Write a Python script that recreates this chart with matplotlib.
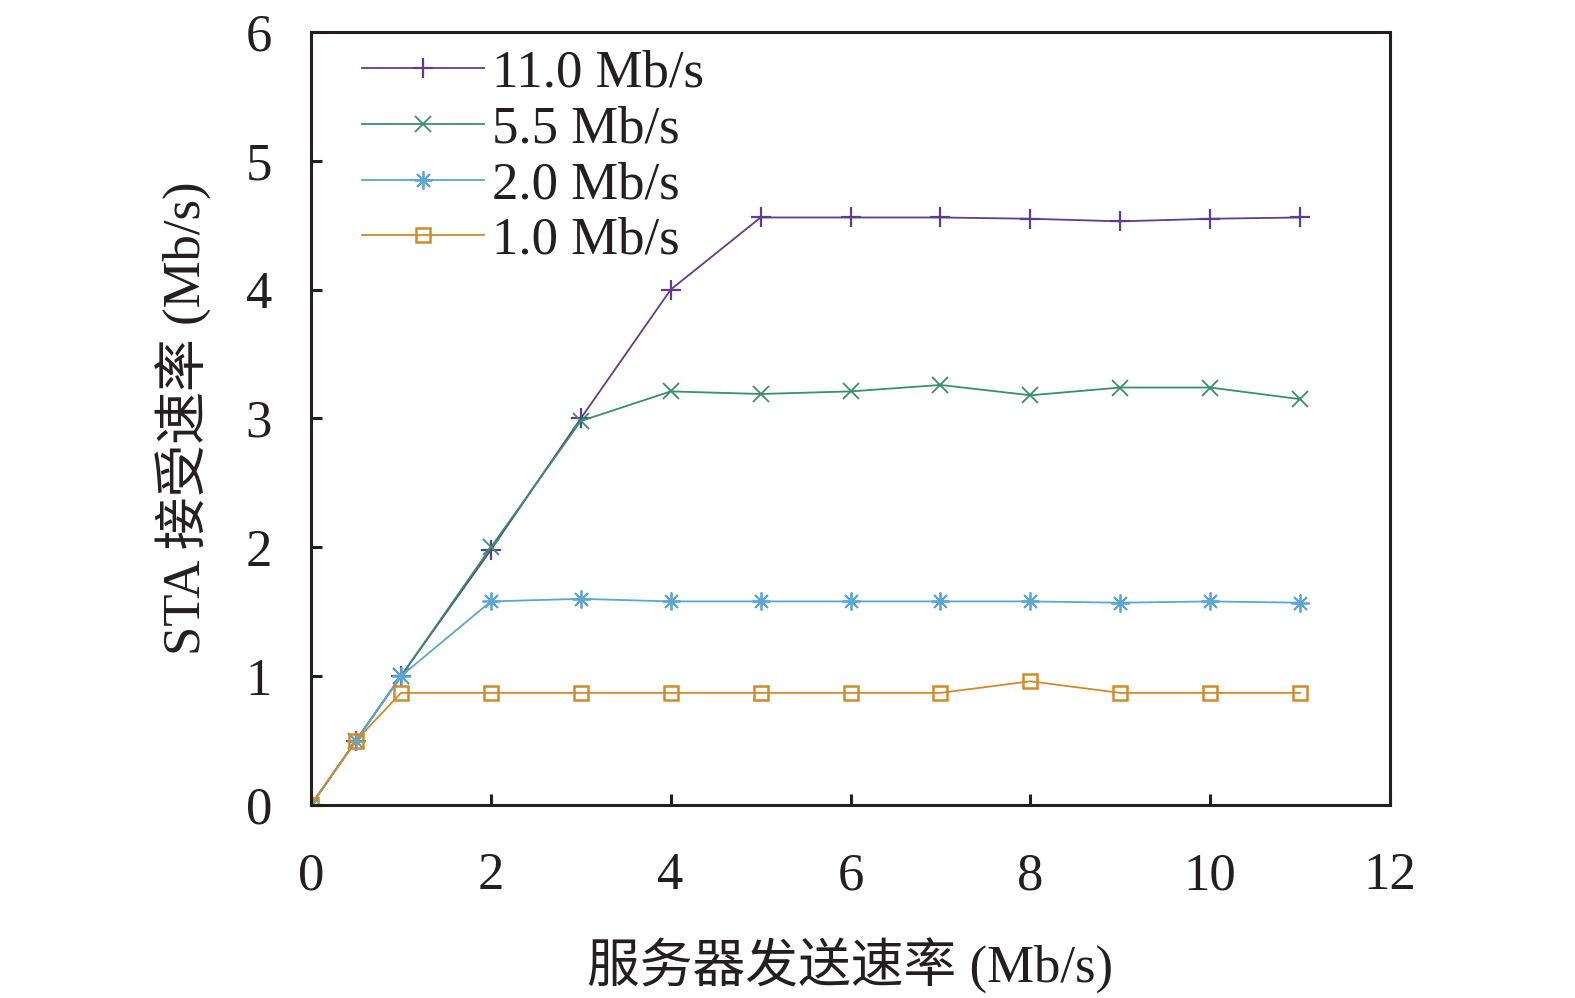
import matplotlib
matplotlib.use('Agg')
import matplotlib.pyplot as plt

# server send rate (Mb/s)
x = [0, 0.5, 1, 2, 3, 4, 5, 6, 7, 8, 9, 10, 11]

# STA receive rate for each channel rate
rate_11 = [0, 0.5, 1.0, 1.98, 3.0, 4.0, 4.56, 4.56, 4.56, 4.55, 4.53, 4.55, 4.56]
rate_55 = [0, 0.5, 1.0, 2.0, 2.98, 3.21, 3.19, 3.21, 3.26, 3.18, 3.24, 3.24, 3.15]
rate_20 = [0, 0.5, 1.0, 1.58, 1.6, 1.58, 1.58, 1.58, 1.58, 1.58, 1.57, 1.58, 1.57]
rate_10 = [0, 0.5, 0.87, 0.87, 0.87, 0.87, 0.87, 0.87, 0.87, 0.96, 0.87, 0.87, 0.87]

labels = ['11.0 Mb/s', '5.5 Mb/s', '2.0 Mb/s', '1.0 Mb/s']
x_ticks = [0, 2, 4, 6, 8, 10, 12]
y_ticks = [0, 1, 2, 3, 4, 5, 6]

fonts = ['Liberation Serif', 'Noto Sans CJK SC', 'DejaVu Sans']
plt.rcParams['font.family'] = fonts
fs = 38

fig = plt.figure(figsize=(15.75, 9.98), dpi=100)
ax = fig.add_axes([0.1975, 0.1934, 0.685, 0.7746])

ax.plot(x, rate_11, color='#5f3d8e', lw=1.3, marker='+', ms=14, mew=1.6, label=labels[0])
ax.plot(x, rate_55, color='#3a8f6a', lw=1.3, marker='x', ms=11, mew=1.3, label=labels[1])
ax.plot(x, rate_20, color='#5ba6d6', lw=1.3, marker=(8, 2, 0), ms=13, mew=1.3, label=labels[2])
ax.plot(x, rate_10, color='#d08b2b', lw=1.3, marker='s', ms=10, mew=1.8, mfc='none', label=labels[3])

ax.set_xlim(0, 12)
ax.set_ylim(0, 6)
ax.set_xticks(x_ticks)
ax.set_yticks(y_ticks)
ax.tick_params(direction='in', length=8, width=2.2, labelsize=fs, colors='#231f20')
ax.tick_params(axis='x', pad=34)
ax.tick_params(axis='y', pad=28)
for s in ax.spines.values():
    s.set_linewidth(2.2)
    s.set_color('#231f20')

ax.set_xlabel('服务器发送速率 (Mb/s)', fontsize=fs, labelpad=27, color='#231f20')
ax.set_ylabel('STA 接受速率 (Mb/s)', fontsize=fs, labelpad=24, color='#231f20')

leg = ax.legend(loc='upper left', frameon=False, fontsize=fs, handlelength=2.3,
                handletextpad=0.15, labelspacing=0.15, borderaxespad=0.0,
                bbox_to_anchor=(0.028, 1.005))
for t in leg.get_texts():
    t.set_color('#231f20')

fig.savefig('out.png', dpi=100)
